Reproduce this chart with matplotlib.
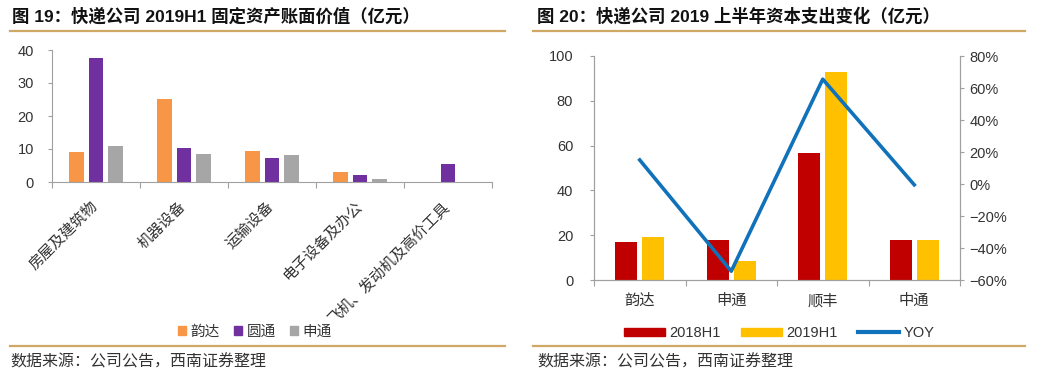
import matplotlib
matplotlib.use("Agg")
import matplotlib.pyplot as plt
import matplotlib.transforms as mtransforms
from matplotlib.patches import Patch
from matplotlib.lines import Line2D
import numpy as np

plt.rcParams['font.family'] = ['Liberation Sans', 'Noto Sans CJK SC']

# left chart: fixed assets 2019H1
asset_types = ['房屋及建筑物', '机器设备', '运输设备', '电子设备及办公', '飞机、发动机及高价工具']
yunda = [9.2, 25.1, 9.4, 3.0, 0]
yto = [37.6, 10.2, 7.3, 2.0, 5.6]
sto = [10.9, 8.6, 8.2, 0.8, 0]
left_series = ['韵达', '圆通', '申通']

# right chart: capex
companies = ['韵达', '申通', '顺丰', '中通']
capex_2018 = [17.0, 17.9, 56.7, 17.9]
capex_2019 = [19.3, 8.5, 92.9, 17.8]
yoy = [15, -54.5, 65.5, -0.5]
right_series = ['2018H1', '2019H1', 'YOY']

c_org, c_pur, c_gray = '#F79646', '#7030A0', '#A6A6A6'
c_red, c_yel, c_blue = '#C00000', '#FFC000', '#0F72BA'
gold = '#CFA866'
spine_c = '#A0A0A0'
txt_c = '#333333'

W, H = 1058, 376
fig = plt.figure(figsize=(W / 100, H / 100), dpi=100)

def fx(px):
    return px / W

def fy(py):
    return 1 - py / H

# titles and separators
fig.text(fx(12), fy(16), '图 19：快递公司 2019H1 固定资产账面价值（亿元）', fontsize=12.5,
         fontweight='bold', va='center', ha='left', color='#111111')
fig.text(fx(537), fy(16), '图 20：快递公司 2019 上半年资本支出变化（亿元）', fontsize=12.5,
         fontweight='bold', va='center', ha='left', color='#111111')
for x0, x1 in [(10, 505), (533, 1025)]:
    for yy in [31, 346]:
        fig.add_artist(Line2D([fx(x0), fx(x1)], [fy(yy), fy(yy)], color=gold, lw=1.6))
for x0 in [10, 537]:
    fig.text(fx(x0), fy(362), '数据来源：公司公告，西南证券整理', fontsize=11.5,
             va='center', ha='left', color='#333333', fontstyle='italic')

# ---- left chart
ax1 = fig.add_axes([fx(52), fy(182), fx(492 - 52), (182 - 50) / H])
x = np.arange(len(asset_types))
bw = 0.17
off = 0.22
ax1.bar(x - off, yunda, bw, color=c_org)
ax1.bar(x, yto, bw, color=c_pur)
ax1.bar(x + off, sto, bw, color=c_gray)
ax1.set_xlim(-0.5, len(asset_types) - 0.5)
ax1.set_ylim(0, 40)
ax1.set_yticks([0, 10, 20, 30, 40])
ax1.set_xticks(np.arange(len(asset_types) + 1) - 0.5)
ax1.set_xticklabels([])
ax1.set_xticks(x, minor=True)
ax1.set_xticklabels(asset_types, minor=True, rotation=45, ha='right', va='top',
                    rotation_mode='anchor', fontsize=10.8, color=txt_c)
ax1.tick_params(axis='x', which='minor', length=0, pad=12)
ax1.tick_params(axis='x', which='major', length=4, color=spine_c)
ax1.tick_params(axis='y', length=3, color=spine_c, labelsize=10.5, labelcolor=txt_c, pad=10)
# nudge rotated labels a bit to the left
shift = mtransforms.ScaledTranslation(-6 / 100, 0, fig.dpi_scale_trans)
for lab in ax1.get_xticklabels(minor=True):
    lab.set_transform(lab.get_transform() + shift)
for s in ['top', 'right']:
    ax1.spines[s].set_visible(False)
for s in ['left', 'bottom']:
    ax1.spines[s].set_color(spine_c)

h1 = [Patch(color=c) for c in [c_org, c_pur, c_gray]]
fig.legend(h1, left_series, loc='center', bbox_to_anchor=(fx(255), fy(332)), ncol=3,
           frameon=False, fontsize=10.5, handlelength=0.55, handleheight=0.55,
           handletextpad=0.3, columnspacing=1.0, labelcolor=txt_c)

# ---- right chart
ax2 = fig.add_axes([fx(594), fy(280), fx(960 - 594), (280 - 56) / H])
xr = np.arange(len(companies))
bw2 = 0.24
off2 = 0.148
ax2.bar(xr - off2, capex_2018, bw2, color=c_red)
ax2.bar(xr + off2, capex_2019, bw2, color=c_yel)
ax2.set_xlim(-0.5, len(companies) - 0.5)
ax2.set_ylim(0, 100)
ax2.set_yticks(range(0, 101, 20))
ax2.set_xticks(np.arange(len(companies) + 1) - 0.5)
ax2.set_xticklabels([])
ax2.set_xticks(xr, minor=True)
ax2.set_xticklabels(companies, minor=True, fontsize=11, color=txt_c)
ax2.tick_params(axis='x', which='minor', length=0, pad=10)
ax2.tick_params(axis='x', which='major', length=4, color=spine_c)
ax2.tick_params(axis='y', length=3, color=spine_c, labelsize=10.5, labelcolor=txt_c, pad=12)
ax2.spines['top'].set_visible(False)
for s in ['left', 'bottom', 'right']:
    ax2.spines[s].set_color(spine_c)

ax3 = ax2.twinx()
ax3.plot(xr, yoy, color=c_blue, lw=2.6)
ax3.set_ylim(-60, 80)
ax3.set_yticks(range(-60, 81, 20))
ax3.set_yticklabels([f'{v}%'.replace('-', '−') for v in range(-60, 81, 20)])
ax3.tick_params(axis='y', length=3, color=spine_c, labelsize=10.5, labelcolor=txt_c, pad=4)
ax3.spines['top'].set_visible(False)
for s in ['left', 'bottom', 'right']:
    ax3.spines[s].set_color(spine_c)

h2 = [Patch(color=c_red), Patch(color=c_yel), Line2D([], [], color=c_blue, lw=3)]
fig.legend(h2, right_series, loc='center', bbox_to_anchor=(fx(779), fy(333)), ncol=3,
           frameon=False, fontsize=10.5, handlelength=2.8, handleheight=0.5,
           handletextpad=0.3, columnspacing=1.4, labelcolor=txt_c)

fig.savefig('out.png', dpi=100)
